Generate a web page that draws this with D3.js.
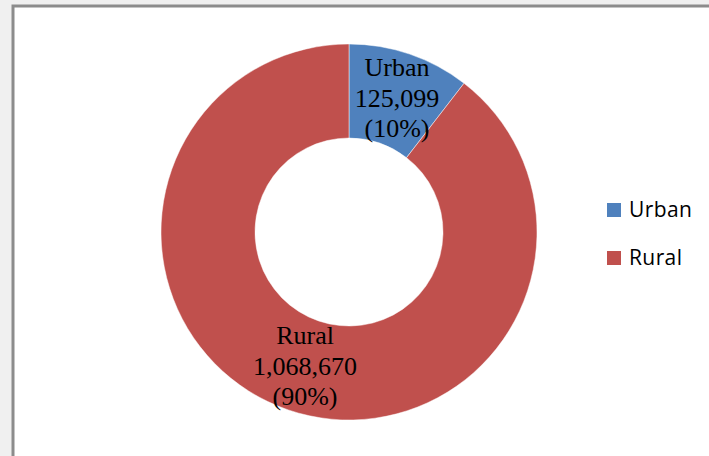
<!DOCTYPE html>
<html>
<head>
<meta charset="utf-8">
<script src="https://cdn.jsdelivr.net/npm/d3@7"></script>
<style>
  html, body { margin: 0; padding: 0; background: #f0f0f0; }
  svg { display: block; }
</style>
</head>
<body>
<svg id="chart" width="709" height="456"></svg>
<script>
// Population by area type
const categories = ["Urban", "Rural"];
const values = [125099, 1068670];
const percentLabels = ["(10%)", "(90%)"];
const colors = ["#4F81BD", "#C0504D"];

const svg = d3.select("#chart");
const W = 709, H = 456;

// chart area with gray frame
svg.append("rect")
  .attr("x", 13).attr("y", 6)
  .attr("width", W).attr("height", H)
  .attr("fill", "#ffffff")
  .attr("stroke", "#8c8c8c")
  .attr("stroke-width", 3);

const cx = 349, cy = 232, outerR = 188, innerR = 94;

const pie = d3.pie().sort(null).value(d => d.value);
const arcs = pie(categories.map((c, i) => ({ name: c, value: values[i], i })));

const arc = d3.arc().innerRadius(innerR).outerRadius(outerR);

const g = svg.append("g").attr("transform", `translate(${cx},${cy})`);

g.selectAll("path")
  .data(arcs)
  .join("path")
  .attr("d", arc)
  .attr("fill", d => colors[d.data.i])
  .attr("stroke", "#ffffff")
  .attr("stroke-width", 0.8)
  .attr("stroke-opacity", 0.6);

// data labels placed on each ring segment
const fmt = d3.format(",");
const labelPos = [
  { x: 397 - cx, y: 76 - cy },
  { x: 305 - cx, y: 344 - cy }
];
arcs.forEach((d, k) => {
  const p = labelPos[k];
  const t = g.append("text")
    .attr("text-anchor", "middle")
    .attr("font-family", "'Liberation Serif', 'Times New Roman', serif")
    .attr("font-size", 26)
    .attr("fill", "#000");
  [d.data.name, fmt(d.data.value), percentLabels[d.data.i]].forEach((s, j) => {
    t.append("tspan").attr("x", p.x).attr("y", p.y + j * 30.5).text(s);
  });
});

// legend
const legend = svg.append("g");
categories.forEach((c, i) => {
  const y = 203 + i * 48;
  legend.append("rect")
    .attr("x", 607).attr("y", y)
    .attr("width", 14).attr("height", 14)
    .attr("fill", colors[i]);
  legend.append("text")
    .attr("x", 629).attr("y", y + 13.5)
    .attr("font-family", "'Open Sans', sans-serif")
    .attr("font-size", 21)
    .attr("letter-spacing", 0.4)
    .attr("fill", "#000")
    .text(c);
});
</script>
</body>
</html>
